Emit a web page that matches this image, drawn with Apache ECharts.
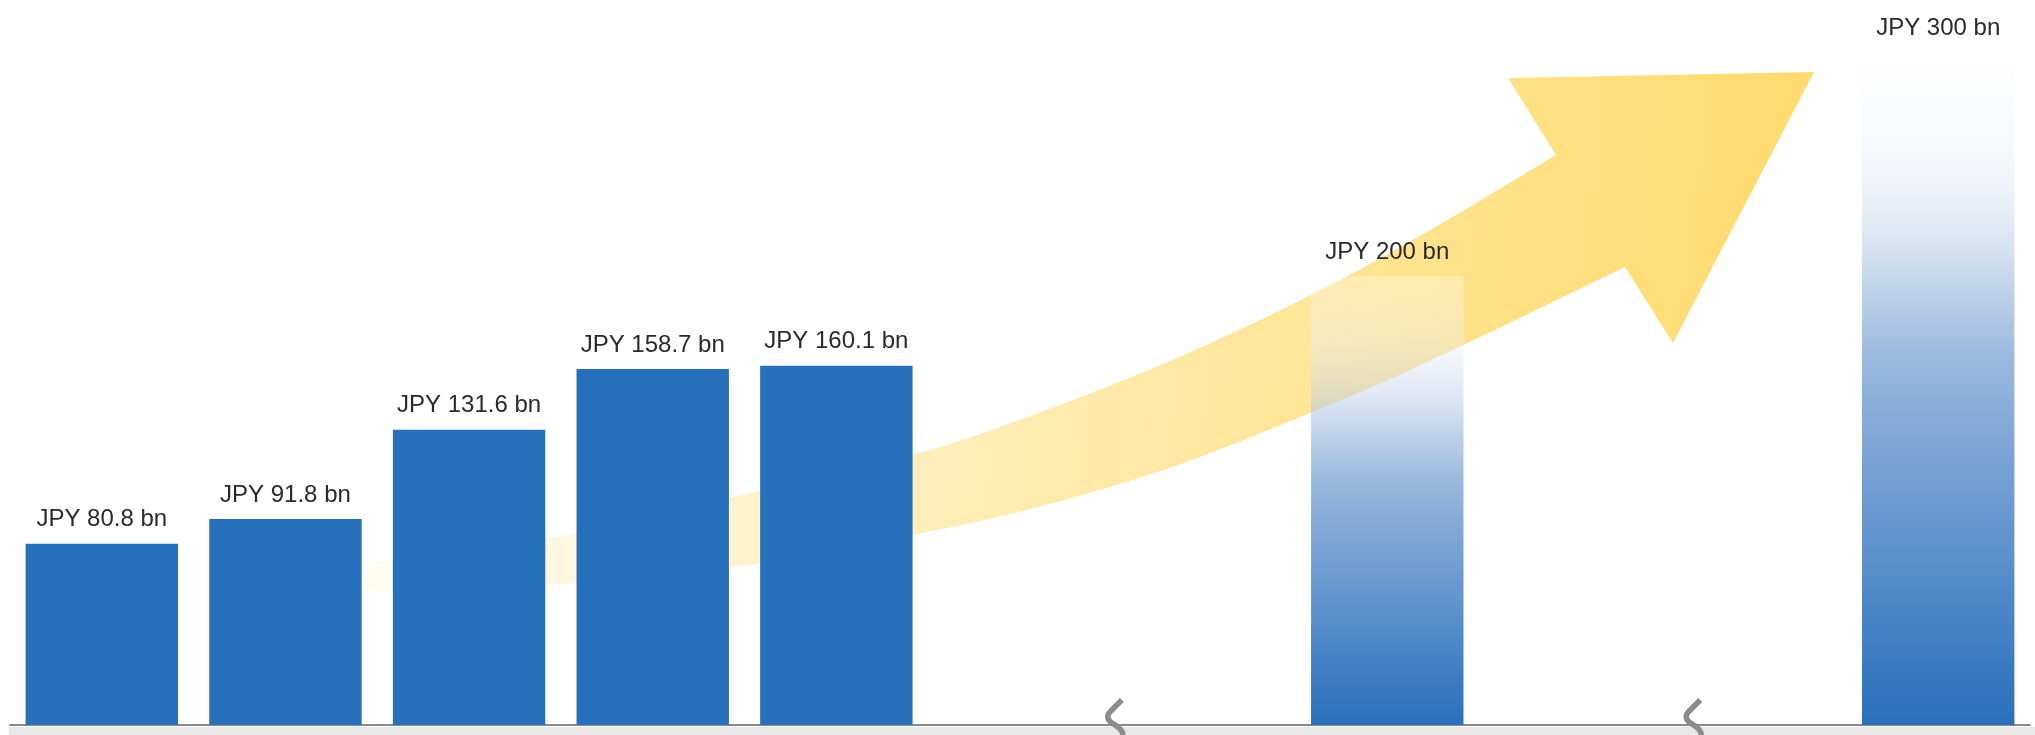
<!DOCTYPE html>
<html>
<head>
<meta charset="utf-8">
<style>
  html, body { margin: 0; padding: 0; background: #ffffff; }
  #chart { width: 2035px; height: 735px; }
</style>
<script src="https://cdn.jsdelivr.net/npm/echarts@6/dist/echarts.min.js"></script>
</head>
<body>
<div id="chart"></div>
<script>
// ---- data ----
const categories = ['Actual 1', 'Actual 2', 'Actual 3', 'Actual 4', 'Actual 5', 'gap 1', 'gap 2', 'Target 1', 'gap 3', 'gap 4', 'Target 2'];
const values     = [80.8, 91.8, 131.6, 158.7, 160.1, null, null, 200, null, null, 300];
const barKinds   = ['actual', 'actual', 'actual', 'actual', 'actual', 'gap', 'gap', 'target', 'gap', 'gap', 'target'];
const labelPrefix = 'JPY ';
const labelSuffix = ' bn';
const axisBreaks = [5.5, 8.65];   // positions (in category units) of the axis-break marks

// ---- styles ----
const solidBlue = '#2770bb';
const targetGradient = {
  type: 'linear', x: 0, y: 0, x2: 0, y2: 1,
  colorStops: [
    { offset: 0.00, color: 'rgba(255,255,255,0.3)' },
    { offset: 0.15, color: 'rgba(232,237,247,0.4)' },
    { offset: 0.25, color: 'rgba(201,215,235,0.5)' },
    { offset: 0.35, color: 'rgba(148,182,220,0.6)' },
    { offset: 0.45, color: 'rgba(112,156,208,0.7)' },
    { offset: 0.55, color: 'rgba(101,149,206,0.8)' },
    { offset: 0.70, color: 'rgba(85,139,202,0.9)' },
    { offset: 0.85, color: 'rgba(70,131,198,1)' },
    { offset: 1.00, color: 'rgba(40,112,187,1)' }
  ]
};

const chart = echarts.init(document.getElementById('chart'), null, { renderer: 'canvas' });

const seriesData = values.map((v, i) => ({
  value: v,
  itemStyle: { color: barKinds[i] === 'target' ? targetGradient : solidBlue }
}));

chart.setOption({
  animation: false,
  backgroundColor: '#ffffff',
  grid: { left: 10, right: 5, top: 52, bottom: 10, containLabel: false },
  xAxis: {
    type: 'category',
    data: categories,
    boundaryGap: true,
    axisLine: { show: true, lineStyle: { color: '#8a8a8a', width: 2 } },
    axisTick: { show: false },
    axisLabel: { show: false },
    splitLine: { show: false }
  },
  yAxis: {
    type: 'value',
    min: 0,
    max: 300,
    show: false,
    splitLine: { show: false }
  },
  series: [{
    type: 'bar',
    z: 2,
    data: seriesData,
    barWidth: '83%',
    label: {
      show: true,
      position: 'top',
      distance: 12,
      fontFamily: '"Liberation Sans", Arial, sans-serif',
      fontSize: 24,
      color: '#2a2a2a',
      formatter: p => labelPrefix + p.value + labelSuffix
    }
  }]
});

// ---- decoration helpers ----
function sampleSmooth(pts, steps) {
  // Catmull-Rom spline through pts, sampled into a point list
  const out = [];
  for (let i = 0; i < pts.length - 1; i++) {
    const p0 = pts[i - 1] || pts[i], p1 = pts[i], p2 = pts[i + 1], p3 = pts[i + 2] || pts[i + 1];
    const c1 = [p1[0] + (p2[0] - p0[0]) / 6, p1[1] + (p2[1] - p0[1]) / 6];
    const c2 = [p2[0] - (p3[0] - p1[0]) / 6, p2[1] - (p3[1] - p1[1]) / 6];
    for (let s = 0; s < steps; s++) {
      const t = s / steps, u = 1 - t;
      out.push([
        u * u * u * p1[0] + 3 * u * u * t * c1[0] + 3 * u * t * t * c2[0] + t * t * t * p2[0],
        u * u * u * p1[1] + 3 * u * u * t * c1[1] + 3 * u * t * t * c2[1] + t * t * t * p2[1]
      ]);
    }
  }
  out.push(pts[pts.length - 1]);
  return out;
}
function sampleQuad(a, c, b, steps) {
  const out = [];
  for (let s = 0; s <= steps; s++) {
    const t = s / steps, u = 1 - t;
    out.push([u * u * a[0] + 2 * u * t * c[0] + t * t * b[0], u * u * a[1] + 2 * u * t * c[1] + t * t * b[1]]);
  }
  return out;
}

// ---- decoration: growth arrow (behind the bars) ----
const lowerEdge = [[345, 592], [546, 585], [729, 568], [912, 535], [1038, 507], [1172, 467], [1310, 413], [1425, 363], [1625, 267]];
const upperEdge = [[1556, 155], [1425, 233], [1305, 298], [1172, 360], [1038, 413], [912, 455], [729, 498], [546, 539], [365, 564]];
const arrowPoints = []
  .concat(sampleSmooth(lowerEdge, 16))
  .concat([[1673, 343], [1814, 72], [1508, 78]])
  .concat(sampleSmooth(upperEdge, 16));

const graphics = [{
  type: 'polygon',
  id: 'arrow',
  z: 1,
  silent: true,
  shape: { points: arrowPoints },
  style: {
    fill: {
      type: 'linear', x: 0, y: 0, x2: 1, y2: 0.35,
      colorStops: [
        { offset: 0.00, color: 'rgba(255,217,102,0.03)' },
        { offset: 0.15, color: 'rgba(255,217,102,0.17)' },
        { offset: 0.40, color: 'rgba(255,217,102,0.42)' },
        { offset: 0.60, color: 'rgba(255,217,102,0.62)' },
        { offset: 0.82, color: 'rgba(255,217,102,0.82)' },
        { offset: 1.00, color: 'rgba(255,217,102,0.96)' }
      ]
    }
  }
}];

// ---- decoration: grey floor band and axis-break marks, placed from the axes ----
const y0 = chart.convertToPixel({ yAxisIndex: 0 }, 0);
const catX = i => chart.convertToPixel({ xAxisIndex: 0 }, i);
const gridLeft = 10;
graphics.push({
  type: 'rect', id: 'floor', z: 0, silent: true,
  shape: { x: gridLeft - 1, y: y0 + 2, width: 2035 - gridLeft + 1, height: 735 - y0 - 2 },
  style: { fill: '#e8e8e8' }
});
axisBreaks.forEach((b, k) => {
  const i = Math.floor(b), f = b - i;
  const x = catX(i) + f * (catX(i + 1) - catX(i)) + 3;
  const pts = [[x + 7, y0 - 25], [x - 5, y0 - 13]]
    .concat(sampleQuad([x - 5, y0 - 13], [x - 10, y0 - 7], [x - 3, y0 - 2], 8).slice(1))
    .concat(sampleQuad([x - 3, y0 - 2], [x + 8, y0 + 4], [x + 8, y0 + 10], 8).slice(1));
  graphics.push({
    type: 'polyline', id: 'break' + k, z: 100, silent: true,
    shape: { points: pts },
    style: { fill: null, stroke: '#8c8c8c', lineWidth: 5.5, lineCap: 'butt', lineJoin: 'round' }
  });
});

chart.setOption({ graphic: { elements: graphics } });
</script>
</body>
</html>
